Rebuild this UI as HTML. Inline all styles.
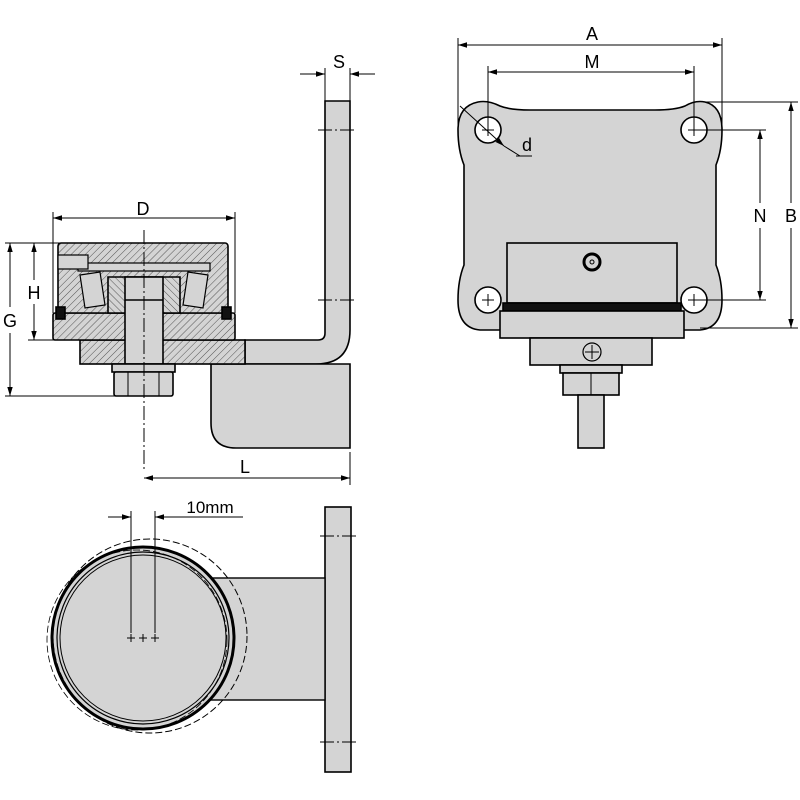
<!DOCTYPE html>
<html><head><meta charset="utf-8"><style>
html,body{margin:0;padding:0;background:#fff;}
svg{display:block;}
text{font-family:"Liberation Sans",sans-serif;fill:#000;}
</style></head><body>
<svg width="800" height="800" viewBox="0 0 800 800" xmlns="http://www.w3.org/2000/svg">
<defs>
<pattern id="h" patternUnits="userSpaceOnUse" width="5" height="5" patternTransform="rotate(45)">
<rect width="5" height="5" fill="#d4d4d4"/><line x1="0" y1="0" x2="0" y2="5" stroke="#333" stroke-width="0.8"/></pattern>
<pattern id="h2" patternUnits="userSpaceOnUse" width="5" height="5" patternTransform="rotate(-45)">
<rect width="5" height="5" fill="#d4d4d4"/><line x1="0" y1="0" x2="0" y2="5" stroke="#333" stroke-width="0.8"/></pattern>
<marker id="a" viewBox="0 0 10 10" refX="10" refY="5" markerWidth="9" markerHeight="9" orient="auto-start-reverse" markerUnits="userSpaceOnUse"><path d="M0,2 L10,5 L0,8z" fill="#000"/></marker>
</defs>
<g stroke="#000" stroke-width="1.6" fill="#d4d4d4">
<path d="M325,101 H350 V330 Q350,364 316,364 H245 V340 H318 Q325,340 325,333 Z"/>
<path d="M211,364 H350 V448 H236 Q211,448 211,423 Z"/>
<rect x="80" y="340" width="165" height="24" fill="url(#h)"/>
<rect x="53" y="313" width="182" height="27" rx="2" fill="url(#h)"/>
<rect x="58" y="243" width="170" height="70" rx="3" fill="url(#h)"/>
<rect x="78" y="263" width="132" height="8" fill="#d4d4d4" stroke-width="1.2"/>
<rect x="58" y="255" width="30" height="14" fill="#d4d4d4" stroke-width="1.2"/>
<path d="M108,277 H180 V313 H108 Z" fill="url(#h2)"/>
<polygon points="80,275 100,272 105,305 85,308" fill="#d4d4d4" stroke-width="1.2"/>
<polygon points="208,275 188,272 183,305 203,308" fill="#d4d4d4" stroke-width="1.2"/>
<rect x="56" y="307" width="9" height="12" fill="#111"/>
<rect x="222" y="307" width="9" height="12" fill="#111"/>
<rect x="125" y="277" width="38" height="87" fill="#d4d4d4"/>
<line x1="125" y1="300" x2="163" y2="300"/>
<rect x="112" y="364" width="63" height="8" fill="#d4d4d4"/>
<rect x="114" y="372" width="59" height="24" rx="2" fill="#d4d4d4"/>
<line x1="128" y1="372" x2="128" y2="396" stroke-width="1"/>
<line x1="159" y1="372" x2="159" y2="396" stroke-width="1"/>
</g>
<g stroke="#000" stroke-width="1" fill="none">
<line x1="144" y1="230" x2="144" y2="470" stroke-dasharray="14,3,2,3"/>
<line x1="318" y1="300" x2="356" y2="300" stroke-dasharray="14,3,2,3"/>
<line x1="318" y1="130" x2="356" y2="130" stroke-dasharray="14,3,2,3"/>
<line x1="53" y1="212" x2="53" y2="313"/><line x1="235" y1="212" x2="235" y2="313"/>
<line x1="53" y1="218" x2="235" y2="218" marker-start="url(#a)" marker-end="url(#a)"/>
<line x1="325" y1="68" x2="325" y2="101"/><line x1="350" y1="68" x2="350" y2="101"/>
<line x1="300" y1="74" x2="325" y2="74" marker-end="url(#a)"/><line x1="375" y1="74" x2="350" y2="74" marker-end="url(#a)"/>
<line x1="5" y1="243" x2="60" y2="243"/><line x1="28" y1="340" x2="55" y2="340"/><line x1="5" y1="396" x2="115" y2="396"/>
<line x1="34" y1="243" x2="34" y2="280" marker-start="url(#a)"/><line x1="34" y1="304" x2="34" y2="340" marker-end="url(#a)"/>
<line x1="10" y1="243" x2="10" y2="307" marker-start="url(#a)"/><line x1="10" y1="333" x2="10" y2="396" marker-end="url(#a)"/>
<line x1="350" y1="452" x2="350" y2="485"/>
<line x1="144" y1="478" x2="350" y2="478" marker-start="url(#a)" marker-end="url(#a)"/>
</g>
<text x="143" y="215" font-size="18" text-anchor="middle">D</text>
<text x="339" y="68" font-size="18" text-anchor="middle">S</text>
<text x="34" y="299" font-size="18" text-anchor="middle">H</text>
<text x="10" y="327" font-size="18" text-anchor="middle">G</text>
<text x="245" y="473" font-size="18" text-anchor="middle">L</text>

<g stroke="#000" fill="#d4d4d4">
<rect x="325" y="507" width="26" height="265" stroke-width="1.6"/>
<rect x="205" y="578" width="120" height="122" stroke-width="1.4"/>
<circle cx="143" cy="638" r="91" stroke-width="3"/>
<circle cx="143" cy="638" r="86" fill="none" stroke-width="1.2"/>
<circle cx="143" cy="638" r="83" fill="none" stroke-width="1"/>
<circle cx="150" cy="636" r="97" fill="none" stroke-width="1" stroke-dasharray="7,3"/>
<circle cx="137" cy="640" r="90" fill="none" stroke-width="0.8" stroke-dasharray="7,3"/>
</g>
<g stroke="#000" stroke-width="1" fill="none">
<line x1="320" y1="536" x2="358" y2="536" stroke-dasharray="14,3,2,3"/>
<line x1="320" y1="742" x2="358" y2="742" stroke-dasharray="14,3,2,3"/>
<line x1="131" y1="511" x2="131" y2="633"/><line x1="155" y1="511" x2="155" y2="633"/>
<line x1="108" y1="517" x2="131" y2="517" marker-end="url(#a)"/>
<line x1="243" y1="517" x2="155" y2="517" marker-end="url(#a)"/>
<path d="M127,638h8M131,634v8M139,638h8M143,634v8M151,638h8M155,634v8"/>
</g>
<text x="210" y="513" font-size="17" text-anchor="middle">10mm</text>

<g stroke="#000" stroke-width="1.6" fill="#d4d4d4">
<path d="M478,102 Q488,100 500,106 Q510,110 530,110 H655 Q675,110 685,106 Q695,100 705,102 Q722,106 722,130 Q722,150 716,165 V265 Q722,280 722,300 Q722,328 700,330 H480 Q458,328 458,300 Q458,280 464,265 V165 Q458,150 458,130 Q458,106 478,102 Z"/>
<rect x="507" y="243" width="170" height="60"/>
<rect x="503" y="303" width="178" height="8" fill="#111"/>
<rect x="500" y="311" width="184" height="27"/>
<rect x="530" y="338" width="122" height="27"/>
<rect x="560" y="365" width="62" height="8"/>
<rect x="563" y="373" width="56" height="22"/>
<line x1="591" y1="373" x2="591" y2="395" stroke-width="1"/>
<rect x="578" y="395" width="26" height="53"/>
<g fill="#fff">
<circle cx="488" cy="130" r="13"/><circle cx="694" cy="130" r="13"/>
<circle cx="488" cy="300" r="13"/><circle cx="694" cy="300" r="13"/>
</g>
<circle cx="592" cy="262" r="8" fill="none" stroke-width="3"/>
<circle cx="592" cy="262" r="2" fill="none" stroke-width="1"/>
<circle cx="592" cy="352" r="9" fill="none" stroke-width="1.2"/>
</g>
<g stroke="#000" stroke-width="1" fill="none">
<path d="M482,130h12M488,124v12M688,130h12M694,124v12M482,300h12M488,294v12M688,300h12M694,294v12M585,352h14M592,345v14"/>
<line x1="458" y1="38" x2="458" y2="130"/><line x1="722" y1="38" x2="722" y2="130"/>
<line x1="458" y1="45" x2="722" y2="45" marker-start="url(#a)" marker-end="url(#a)"/>
<line x1="488" y1="66" x2="488" y2="130"/><line x1="694" y1="66" x2="694" y2="130"/>
<line x1="488" y1="72" x2="694" y2="72" marker-start="url(#a)" marker-end="url(#a)"/>
<line x1="700" y1="130" x2="766" y2="130"/><line x1="700" y1="300" x2="766" y2="300"/>
<line x1="760" y1="130" x2="760" y2="203" marker-start="url(#a)"/><line x1="760" y1="228" x2="760" y2="300" marker-end="url(#a)"/>
<line x1="705" y1="102" x2="798" y2="102"/><line x1="700" y1="328" x2="798" y2="328"/>
<line x1="791" y1="102" x2="791" y2="203" marker-start="url(#a)"/><line x1="791" y1="228" x2="791" y2="328" marker-end="url(#a)"/>
<line x1="460" y1="106" x2="504" y2="146" marker-end="url(#a)"/>
<line x1="504" y1="146" x2="520" y2="156"/><line x1="516" y1="156" x2="532" y2="156"/>
</g>
<text x="592" y="40" font-size="18" text-anchor="middle">A</text>
<text x="592" y="68" font-size="18" text-anchor="middle">M</text>
<text x="760" y="222" font-size="18" text-anchor="middle">N</text>
<text x="791" y="222" font-size="18" text-anchor="middle">B</text>
<text x="527" y="151" font-size="18" text-anchor="middle">d</text>
</svg>
</body></html>
